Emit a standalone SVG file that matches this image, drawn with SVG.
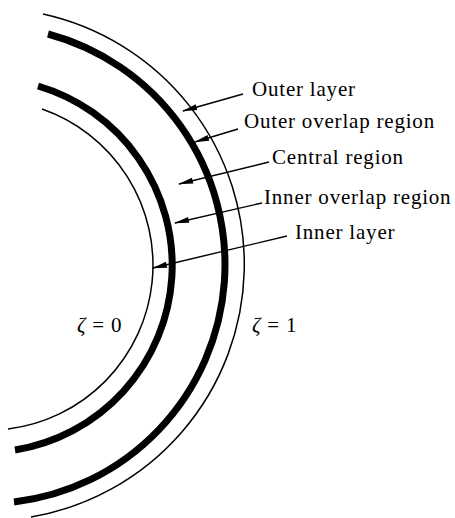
<svg xmlns="http://www.w3.org/2000/svg" width="455" height="518" viewBox="0 0 455 518">
<style>
.thin{fill:none;stroke:#000;stroke-width:1.5}
.thick{fill:none;stroke:#000;stroke-width:7}
.lead{fill:none;stroke:#000;stroke-width:1.4;marker-end:url(#ah)}
text{font-family:"Liberation Serif","Times New Roman",serif;font-size:21px;fill:#000;letter-spacing:0.8px}
.z{font-style:italic}
</style>
<defs>
<marker id="ah" markerUnits="userSpaceOnUse" markerWidth="16" markerHeight="8" refX="14" refY="3" orient="auto" overflow="visible">
<path d="M0,0 L15,3 L0,6 z" fill="#000"/>
</marker>
</defs>
<rect width="455" height="518" fill="#fff"/>
<g id="curves">
<path id="outer-boundary" class="thin" d="M43,14 A256.3,256.3 0 0 1 31,517"/>
<path id="outer-overlap" class="thick" d="M48,34 A238.9,238.9 0 0 1 14,502"/>
<path id="inner-overlap" class="thick" d="M38,86 A187,187 0 0 1 15,450"/>
<path id="inner-boundary" class="thin" d="M42,109 A165.2,165.2 0 0 1 8,429"/>
</g>
<g id="connectors">
<line class="lead" x1="243" y1="94" x2="183" y2="111"/>
<line class="lead" x1="238" y1="129" x2="195" y2="142"/>
<line class="lead" x1="269" y1="162" x2="179" y2="184"/>
<line class="lead" x1="262" y1="203" x2="175" y2="223"/>
<line class="lead" x1="287" y1="236" x2="153" y2="268"/>
</g>
<g id="label-outer-layer"><text x="252" y="96">Outer layer</text></g>
<g id="label-outer-overlap"><text x="244" y="128">Outer overlap region</text></g>
<g id="label-central"><text x="272" y="164">Central region</text></g>
<g id="label-inner-overlap"><text x="264" y="204">Inner overlap region</text></g>
<g id="label-inner-layer"><text x="295" y="239">Inner layer</text></g>
<g id="label-zeta0"><text x="77" y="332"><tspan class="z">ζ</tspan> = 0</text></g>
<g id="label-zeta1"><text x="252" y="332"><tspan class="z">ζ</tspan> = 1</text></g>
</svg>
